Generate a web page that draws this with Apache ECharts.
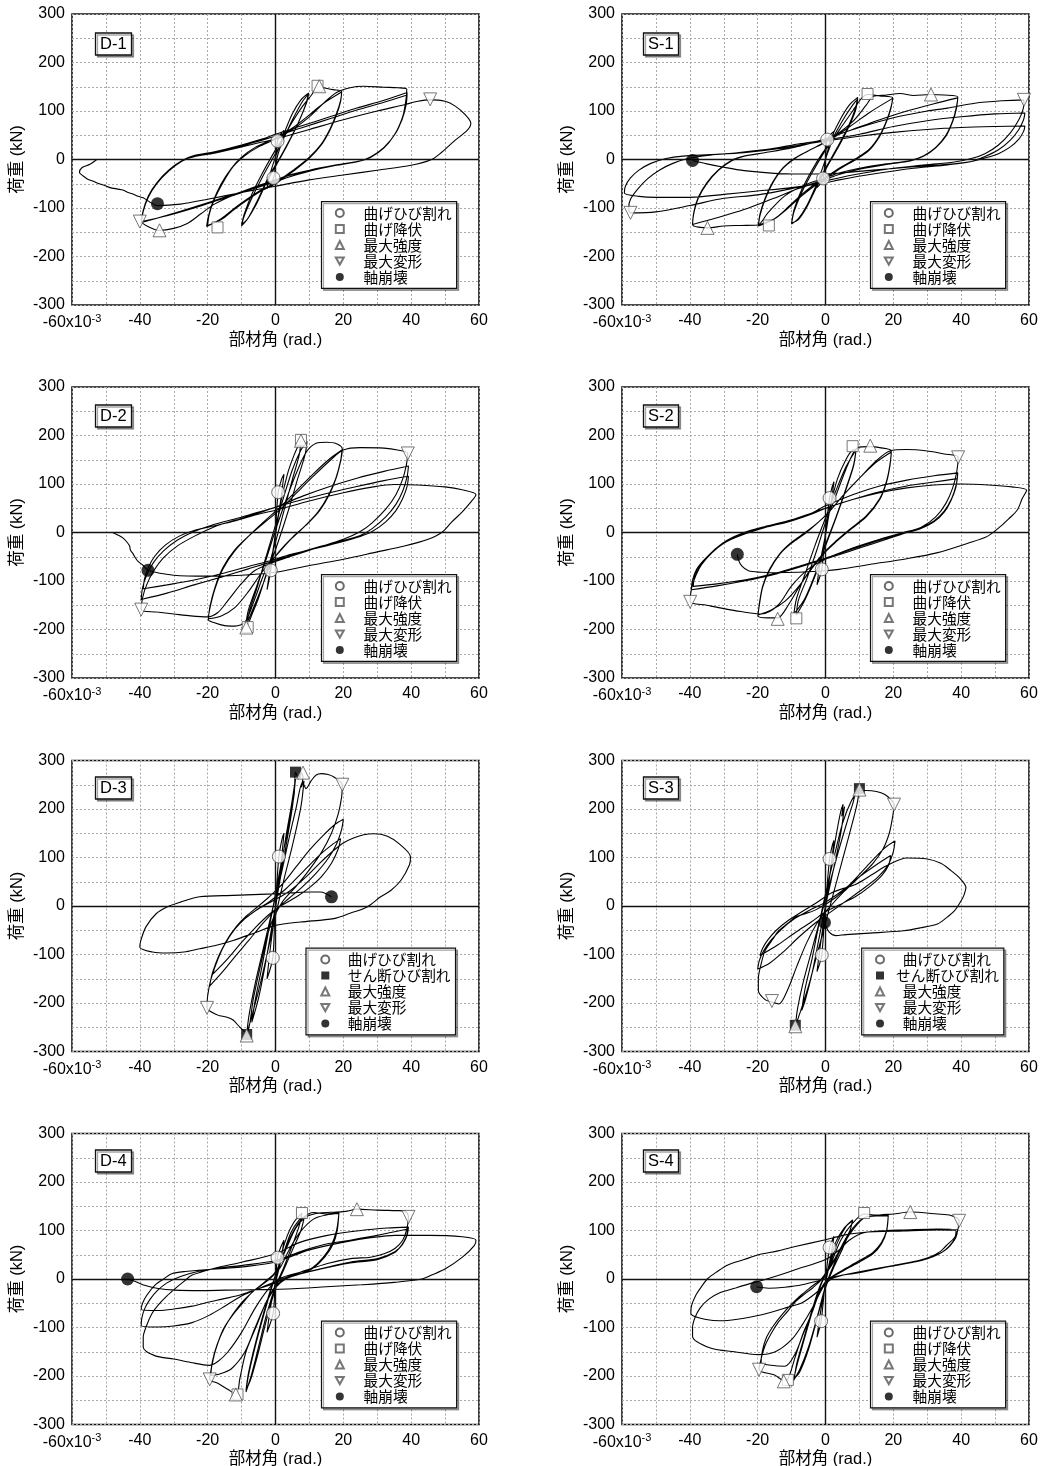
<!DOCTYPE html>
<html>
<head>
<meta charset="utf-8">
<script src="https://cdn.jsdelivr.net/npm/echarts@6/dist/echarts.min.js"></script>
<style>
html, body { margin: 0; padding: 0; background: #fff; }
#chart { width: 1040px; height: 1466px; }
</style>
</head>
<body>
<div id="chart"></div>
<script>
// ---- Axis tick values ----
const xTicks = [-60, -40, -20, 0, 20, 40, 60];
const yTicks = [-300, -200, -100, 0, 100, 200, 300];

// ---- Specimen names ----
const panelNames = ['D-1', 'S-1', 'D-2', 'S-2', 'D-3', 'S-3', 'D-4', 'S-4'];

// ---- Marker category names ----
const nameCrack = '曲げひび割れ';
const nameYield = '曲げ降伏';
const nameShear = 'せん断ひび割れ';
const nameMaxStr = '最大強度';
const nameMaxDef = '最大変形';
const nameCollapse = '軸崩壊';

// ---- Load (kN) vs. drift angle (x10^-3 rad) hysteresis paths ----
const d1Loop = [
 [0,0],[0.6,38],[1.5,52],[2.5,60],
 [1.8,35],[0.5,5],[-0.6,-38],[-1.5,-52],[-2.5,-60],
 [-1.8,-35],[-0.5,-5],[1,25],[3,62],[5,95],[7.5,123],[9.8,137],
 [9.2,118],[7,80],[4,38],[1,0],[-2,-35],[-5,-80],[-8,-120],[-10,-137],
 [-9.3,-118],[-7,-80],[-4,-38],[-1,0],[2,38],[5,82],[8,120],[9.6,134],
 [9,115],[6.5,72],[3.5,30],[0.5,-8],[-2.5,-45],[-5.5,-90],[-8.5,-125],[-10,-134],
 [-9.2,-112],[-7,-72],[-4,-30],[-1,8],[2,42],[5,78],[8,110],[10.5,132],[12.6,150],[14,148],[17,144],[19.5,140],
 [19.2,122],[18,95],[16,62],[13.5,32],[10,5],[6,-18],[2,-38],[0,-48],[-4,-62],[-8,-80],[-12,-100],[-16,-122],[-20.3,-138],
 [-19.8,-118],[-18.5,-88],[-16,-50],[-13,-18],[-10,5],[-6,25],[-2,38],[0,44],[5,65],[10,92],[14,115],[19.5,139],
 [19.2,120],[18,92],[16,60],[13.5,30],[10,3],[6,-20],[2,-40],[0,-50],[-4,-64],[-8,-82],[-12,-102],[-16,-124],[-20,-136],
 [-19.6,-115],[-18.2,-85],[-15.5,-48],[-12.5,-15],[-9,8],[-5,26],[0,42],[5,62],[10,88],[14,115],[18,138],[22,148],[26,151],[32,149],[36,148],[38.7,145],
 [38.4,120],[37.5,88],[35.5,55],[32,25],[28,5],[25,-3],[18,-12],[10,-22],[4,-32],[0,-42],[-6,-56],[-12,-72],[-18,-92],[-22,-112],[-26,-132],[-30,-142],[-34.2,-146],[-37,-140],[-39.5,-128],
 [-39,-105],[-37.5,-75],[-35,-48],[-31.5,-22],[-27.5,-2],[-24,8],[-18,16],[-10,30],[-4,42],[0,52],[8,70],[16,88],[24,106],[32,122],[38.8,138],
 [38.5,115],[37.3,84],[35.2,52],[32,25],[28,5],[25.5,-2],[18,-11],[10,-22],[4,-33],[0,-44],[-8,-62],[-16,-80],[-24,-98],[-32,-115],[-39.5,-130],
 [-39,-107],[-37.5,-78],[-35,-50],[-31.5,-24],[-27.5,-3],[-24,6],[-18,14],[-10,28],[-4,40],[0,48],[8,66],[16,84],[24,102],[32,118],[38.8,133],
 [38.5,112],[37.3,82],[35,50],[32,24],[28,4],[25,-3],[18,-12],[10,-24],[4,-36],[0,-46],[-8,-64],[-16,-82],[-24,-100],[-32,-116],[-39.5,-128],
 [-39,-105],[-37.5,-76],[-35,-48],[-31.5,-22],[-27.5,-2],[-24,6],[-18,13],[-10,26],[-4,36],[0,42],[10,62],[20,82],[30,100],[38,113],[42,120],[45.6,123],[50,120],[53,110],[56,92],[57.6,75],[56.5,60],[53,40],[49,15],[46,0],
 [40,-12],[30,-22],[20,-32],[10,-42],[0,-55],[-10,-68],[-20,-82],[-28,-92],[-34.8,-95],
 [-37,-88],[-39,-79],[-40.5,-76],[-42,-71],[-43.5,-68],[-45,-63],[-46.5,-61],[-48.8,-58],[-50.5,-53],[-52,-50],[-53.7,-45],[-55.5,-40],[-56.7,-34],[-57.8,-27],[-57.1,-17],[-54.7,-10],[-52.7,0]
];

const s1Loop = [
 [0,0],[0.5,41],[1.5,52],[2.5,58],[1.5,30],[0,0],[-0.7,-39],[-1.5,-50],[-2.5,-58],
 [-1.5,-30],[0,0],[1.5,40],[4,78],[7,112],[9.5,128],
 [8.8,105],[6.5,65],[3.5,25],[0.5,-12],[-2.5,-50],[-5.5,-95],[-8,-122],[-10,-133],
 [-9.3,-108],[-7,-68],[-4,-28],[-1,8],[2,42],[5,80],[8,112],[9.5,125],
 [8.8,100],[6.5,62],[3.5,22],[0.5,-15],[-2.5,-55],[-5.5,-98],[-8,-124],[-10,-131],
 [-9.2,-102],[-7,-62],[-4,-22],[-1,12],[2,40],[5,70],[8,100],[10.5,125],[12.4,134],[16,131],[19.8,127],
 [19.3,108],[18,80],[16,50],[13,22],[9,2],[5,-14],[1,-32],[-3,-50],[-7,-72],[-11,-98],[-15,-122],[-19.8,-137],
 [-19.3,-115],[-17.8,-82],[-15.5,-48],[-12.5,-18],[-9,2],[-5,18],[-1,32],[3,48],[8,72],[13,97],[19.8,126],
 [19.3,106],[18,78],[16,48],[13,20],[9,0],[5,-16],[1,-34],[-3,-53],[-7,-75],[-11,-100],[-15,-122],[-19.8,-135],
 [-19.3,-112],[-17.8,-80],[-15.5,-46],[-12.5,-17],[-9,3],[-5,18],[-1,33],[3,50],[8,78],[12,112],[14,130],[18,133],[22,136],[26,132],[31,134],[35,133],[39,129],
 [38.6,108],[37.5,80],[35.5,50],[32.5,25],[29,8],[25,-2],[18,-9],[10,-18],[4,-28],[0,-38],[-6,-52],[-12,-75],[-17,-110],[-20,-135],[-25,-136],[-30,-137],[-34.8,-141],[-39.2,-134],
 [-38.8,-110],[-37.5,-80],[-35,-50],[-31.5,-22],[-27.5,-2],[-24,7],[-18,14],[-10,24],[-4,34],[0,42],[8,62],[16,82],[24,100],[32,115],[39,127],
 [38.6,105],[37.5,78],[35.5,48],[32.5,24],[29,7],[25,-3],[18,-10],[10,-20],[4,-31],[0,-41],[-8,-60],[-16,-82],[-24,-103],[-32,-120],[-39.2,-134],
 [-38.8,-108],[-37.5,-78],[-35,-48],[-31.5,-21],[-27.5,-1],[-24,7],[-18,14],[-10,24],[-4,34],[0,43],[10,66],[20,86],[30,100],[36,106],[44,116],[52,121],[58.5,123],
 [58.3,105],[57,82],[54.5,55],[51,30],[47,12],[43,2],[38,-5],[28,-12],[18,-20],[8,-32],[0,-44],[-10,-60],[-20,-73],[-30,-80],[-40,-95],[-50,-108],[-57.5,-110],
 [-58,-98],[-57.5,-82],[-55.5,-62],[-52.5,-40],[-49,-22],[-45,-8],[-40,3],[-34,9],[-26,14],[-16,22],[-8,32],[0,40],[10,52],[20,68],[30,80],[40,88],[50,94],[58.8,96],
 [58.4,82],[57,62],[54.5,40],[51,20],[47,6],[43,-4],[36,-11],[26,-18],[14,-30],[4,-42],[0,-48],[-10,-58],[-20,-65],[-30,-72],[-40,-78],[-50,-78],[-55,-76],[-59.3,-69],
 [-59,-55],[-57.5,-38],[-55,-22],[-51.5,-8],[-47,2],[-42,7],[-34,10],[-24,14],[-14,22],[-6,32],[0,38],[10,48],[20,56],[30,62],[40,66],[50,68],[58.8,69],
 [58.4,58],[57,42],[54.5,26],[51,12],[47,3],[43,-4],[36,-10],[26,-15],[14,-22],[4,-28],[0,-30],[-8,-30],[-16,-28],[-24,-23],[-30,-16],[-35,-9],[-39.2,-2]
];

const d2Loop = [
 [0,0],[0.8,83],[1.8,110],[2.5,120],[1.5,65],[0,0],[-1.4,-78],[-2.5,-118],
 [-1.5,-70],[0,-5],[1.5,60],[3.5,120],[5.5,160],[7.5,190],
 [7,160],[5,110],[2.5,45],[0,-20],[-2.5,-80],[-5,-135],[-7,-170],[-8.4,-195],
 [-7.8,-165],[-5.5,-115],[-3,-55],[0,15],[2.5,75],[5,130],[7.5,170],[9.3,188],
 [8.7,160],[6.5,110],[4,50],[1,-15],[-2,-75],[-5,-130],[-7.5,-172],[-8.8,-192],
 [-8,-160],[-5.5,-110],[-2.5,-50],[0,5],[3,65],[6,120],[9,165],[12,184],[15,186],[18,183],[19.7,172],
 [19.3,150],[18,115],[16,80],[13,45],[9,15],[5,-10],[1,-40],[-3,-80],[-6,-135],[-9,-185],[-12,-193],[-15,-192],[-18,-186],[-19.8,-180],
 [-19.3,-155],[-17.8,-115],[-15.5,-75],[-12,-38],[-8,-8],[-3,25],[1,50],[6,85],[11,120],[16,152],[19.6,170],
 [19.2,148],[17.8,112],[15.5,75],[12.5,42],[8.5,12],[4.5,-14],[0.5,-45],[-4,-82],[-8,-122],[-12,-155],[-16,-172],[-19.8,-178],
 [-19.3,-152],[-17.8,-112],[-15.5,-72],[-12,-36],[-8,-8],[-3,22],[1,45],[6,80],[11,115],[16,148],[20,170],[25,175],[32,174],[36,170],[39,163],
 [38.6,140],[37.5,110],[35.5,78],[32.5,48],[28.5,20],[25,2],[20,-14],[12,-32],[5,-48],[0,-60],[-6,-78],[-10,-105],[-14,-140],[-17,-165],[-20,-174],[-25,-172],[-30,-168],[-35,-164],[-39.6,-160],
 [-39.2,-135],[-38,-108],[-36,-80],[-33,-52],[-29,-28],[-24,-8],[-18,12],[-12,25],[-6,38],[0,52],[8,75],[16,95],[24,112],[32,126],[39.2,137],
 [38.8,115],[37.5,85],[35.5,58],[32.5,32],[28.5,8],[25,-6],[18,-20],[10,-35],[4,-48],[0,-58],[-8,-75],[-16,-92],[-24,-108],[-32,-125],[-39.6,-138],
 [-39.2,-114],[-38,-88],[-36,-62],[-33,-38],[-29,-16],[-24,2],[-18,17],[-12,28],[-6,40],[0,52],[8,68],[16,82],[24,95],[32,107],[39.2,116],
 [38.8,95],[37.5,70],[35.5,45],[32.5,22],[28.5,2],[25,-8],[18,-22],[10,-36],[4,-46],[0,-55],[-8,-70],[-16,-85],[-24,-98],[-32,-108],[-39,-116],
 [-38.6,-95],[-37.5,-72],[-35.5,-48],[-32.5,-26],[-28.5,-8],[-24,4],[-18,14],[-12,24],[-6,36],[0,46],[10,65],[20,82],[28,93],[35,99],[42,98],[50,94],[55,88],[59.1,78],
 [57.5,62],[55,42],[52,22],[49,0],[45,-14],[38,-28],[30,-40],[20,-55],[10,-68],[0,-82],[-10,-88],[-20,-90],[-30,-88],[-37.6,-78],
 [-39,-68],[-40.6,-59],[-41.5,-50],[-42,-44],[-42.8,-36],[-43,-28],[-44,-18],[-45,-11],[-46.5,-5],[-48,0]
];

const s2Loop = [
 [0,0],[1.2,71],[2,95],[2.5,105],[1.5,55],[0,0],[-1.1,-76],[-2.5,-108],
 [-1.5,-58],[0,-5],[1.5,55],[3.5,110],[6,150],[8,170],[9,171],
 [8.3,140],[6,90],[3,30],[0,-25],[-3,-85],[-6,-135],[-8.6,-162],[-9.3,-166],
 [-8.5,-135],[-6,-85],[-3,-25],[0,30],[3,85],[6,135],[8.5,165],[9,170],
 [8.3,138],[6,88],[3,28],[0,-28],[-3,-88],[-6,-138],[-8.6,-170],
 [-8,-140],[-5.5,-95],[-2.5,-35],[0,20],[3,75],[6,130],[8.5,168],[10,176],[13.2,177],[16,175],[19.4,168],
 [19,140],[18,106],[16,70],[12,34],[7,6],[3,-18],[0,-38],[-4,-72],[-8,-115],[-11,-150],[-14.1,-176],[-17,-176],[-19.9,-172],
 [-19.4,-145],[-18.5,-112],[-16.5,-78],[-13.5,-45],[-10,-22],[-6,-2],[-2,22],[1,42],[5,75],[10,112],[15,145],[19.4,166],
 [19,138],[18,104],[16,68],[12,32],[7,4],[3,-20],[0,-40],[-4,-74],[-8,-112],[-12,-142],[-16,-160],[-19.9,-170],
 [-19.4,-142],[-18.5,-110],[-16.5,-76],[-13.5,-44],[-10,-20],[-6,0],[-2,22],[1,42],[5,75],[10,112],[15,148],[19,168],[24,171],[30,168],[35,162],[39.1,155],
 [38.7,125],[37.5,92],[35.5,60],[32.5,32],[28.5,12],[24,0],[18,-14],[10,-32],[4,-46],[0,-55],[-5,-75],[-10,-110],[-14,-150],[-19,-168],[-25,-163],[-30,-157],[-35,-150],[-39.9,-143],
 [-39.5,-115],[-38.2,-88],[-36.5,-66],[-33.5,-42],[-30,-22],[-25,-6],[-18,10],[-10,25],[-4,40],[0,55],[8,78],[16,96],[24,108],[32,117],[39,123],
 [38.6,100],[37.2,70],[35,44],[32,24],[28,10],[23,0],[16,-14],[8,-32],[2,-48],[0,-54],[-8,-72],[-16,-88],[-24,-100],[-32,-110],[-39.6,-118],
 [-39.2,-98],[-38,-76],[-36,-58],[-33,-38],[-29,-18],[-24,-2],[-18,10],[-10,24],[-4,38],[0,50],[8,68],[16,84],[24,96],[32,104],[38.8,111],
 [38.4,92],[37,66],[35,42],[32,22],[28,8],[23,-2],[16,-16],[8,-34],[2,-48],[0,-53],[-8,-70],[-16,-86],[-24,-98],[-32,-106],[-39,-111],
 [-38.6,-92],[-37.3,-72],[-35.3,-54],[-32.5,-34],[-29,-16],[-24,0],[-18,12],[-10,26],[-4,40],[0,50],[8,68],[16,82],[24,92],[32,98],[40,100],[48,98],[55,94],[59.3,87],
 [58,70],[56.6,47],[54,28],[51.7,13],[47.7,-8],[42,-22],[32.8,-42],[24,-54],[13,-66],[4,-76],[0,-79],[-8,-82],[-14.8,-83],[-19,-82],[-22.7,-79],[-24.7,-69],[-25.7,-56],[-26,-45]
];

const d3Loop = [
 [0,0],[1,102],[2,140],[2.5,150],[1.5,80],[0,5],[-0.8,-107],[-2.5,-150],
 [-1.5,-85],[0,-5],[1.5,70],[3,140],[4.5,200],[5.9,262],
 [5,205],[3,120],[1,40],[-1,-40],[-3,-120],[-5,-190],[-7,-240],
 [-6,-195],[-4,-125],[-2,-50],[0,25],[2,100],[4,170],[5.5,230],[5.9,276],[6.8,262],[7.3,278],[8.1,266],[7.6,245],[8.4,258],
 [7.5,205],[5,125],[2.5,55],[0,-20],[-2.5,-100],[-5,-175],[-7.5,-240],[-8.5,-265],
 [-7.8,-225],[-6,-160],[-3.5,-85],[-1,-10],[1.5,60],[4,140],[6,200],[8,255],[9,242],
 [10.5,258],[12,270],[13.5,273],[15.5,271],[17.2,266],[19.7,250],
 [19.5,225],[18.5,190],[16.5,150],[13.5,110],[10,75],[6,40],[2,8],[-1.5,-40],[-4,-110],[-6.5,-190],[-8.5,-262],[-10.5,-250],[-12.5,-235],[-14.5,-229],[-17,-225],[-20.2,-210],
 [-20,-185],[-19,-150],[-17,-110],[-14.5,-72],[-11.5,-42],[-8.5,-20],[-5,0],[-2,18],[2,45],[6,80],[10,115],[14,145],[17.5,168],[20,179],
 [19.5,158],[18,128],[15.5,98],[12,68],[8,40],[4,16],[0,-8],[-4,-38],[-8,-72],[-12,-105],[-15.5,-135],[-19.4,-165],
 [-18.6,-138],[-16.5,-100],[-13.5,-62],[-10,-32],[-6,-10],[-2,8],[3,35],[8,70],[13,105],[17,128],[19.2,139],
 [18.5,118],[16.5,88],[13.5,60],[10,38],[6,18],[2,2],[-2,-18],[-6,-45],[-10,-75],[-14,-108],[-18.4,-140],
 [-17.6,-118],[-15.5,-85],[-12.5,-52],[-9,-26],[-5,-6],[-1,10],
 [4,30],[9,60],[13,88],[17.2,115],[20,130],[23,140],[26,147],[29,149],[33,144],[36.5,128],[39.8,101],
 [39.5,85],[37,53],[34,32],[31,19],[27,-2],[22,-15],[17.2,-26],[7.3,-33],[0,-40],[-6,-55],[-12.5,-71],[-18,-82],[-22.4,-88],[-27,-95],[-32,-97],[-36.2,-95],[-40,-85],
 [-39.7,-71],[-38.2,-43],[-35.2,-16],[-32,-2],[-28,8],[-22.4,19],[-12.5,22],[-0.6,25],[10.3,29],[13.3,29],[16.5,19]
];

const s3Loop = [
 [0,0],[1.2,97],[2,125],[2.5,135],[1.5,75],[0,5],[-1.1,-101],[-2.5,-135],
 [-1.5,-80],[0,-5],[1.5,75],[3,140],[4.5,195],[5.2,210],[4.8,185],[5.6,205],
 [4.5,150],[2.5,80],[0,0],[-2,-70],[-4,-140],[-6,-195],[-7,-215],
 [-6,-170],[-4,-110],[-2,-40],[0,25],[2.5,100],[5,170],[7.5,215],[10,242],
 [9.3,210],[7.5,160],[5,95],[2.5,30],[0,-35],[-2.5,-100],[-5,-165],[-7.5,-220],[-8.9,-248],
 [-8.2,-210],[-6.5,-155],[-4,-90],[-1.5,-25],[1,40],[3.5,105],[6,165],[8,210],[9.5,238],
 [12,238],[15,236],[17.5,230],[19.2,220],[20.2,209],
 [19.7,180],[18.8,150],[17,118],[14,88],[10,60],[5.5,30],[1.5,0],[-2,-30],[-5.5,-75],[-8.5,-125],[-11,-170],[-13.8,-202],[-15.8,-198],[-17.8,-193],[-19.8,-174],
 [-19.8,-150],[-19,-120],[-17.8,-92],[-15.5,-68],[-13.8,-51],[-11,-35],[-8.9,-23],[-2.9,-8],[3.1,18],[8,50],[13,88],[17.5,120],[20.5,134],
 [20,112],[18.5,85],[15.5,60],[11,35],[6,10],[2,-10],[-3,-35],[-8,-65],[-12.5,-95],[-16.5,-118],[-20,-130],
 [-19.5,-112],[-18.2,-92],[-16,-70],[-13,-48],[-9.5,-28],[-5,-10],[0,8],[5,32],[10,60],[15,85],[19.2,104],
 [18.6,84],[16.5,62],[13,40],[9,20],[4,2],[0,-12],[-4,-32],[-9,-55],[-14,-80],[-19.3,-102],
 [-18.6,-88],[-17,-70],[-14.5,-50],[-11,-30],[-7,-12],[-3,5],
 [2,28],[9,45],[14,66],[18,83],[24,99],[30,97],[34,88],[37,73],[39.5,58],[41.4,38],
 [40.8,22],[40,11],[38,-10],[35.5,-25],[33,-37],[28,-45],[23,-51],[13,-56],[6,-59],[3,-61],[1.1,-54],[-0.3,-34]
];

const d4Loop = [
 [0,0],[0.6,44],[1.5,65],[2.5,80],[1.5,35],[0,-10],[-0.7,-71],[-2.5,-110],
 [-1.5,-60],[0,-5],[1.5,45],[3.5,90],[5.5,118],[7.8,136],
 [7,110],[5,70],[2.5,25],[0,-15],[-2.5,-70],[-5,-140],[-7,-195],[-8.7,-233],
 [-8,-200],[-6,-140],[-3.5,-75],[-1,-15],[2,45],[4.5,95],[7,122],[8.5,128],
 [7.5,100],[5,60],[2.5,20],[0,-20],[-2.5,-80],[-5,-150],[-7.2,-205],[-8.7,-230],
 [-8,-195],[-6,-135],[-3.5,-70],[-1,-12],[2,45],[5,95],[8,125],[11.3,137],[15,134],[18.7,137],
 [18.2,100],[17,72],[14.5,45],[11,22],[7.3,11],[3,0],[0,-15],[-2.7,-47],[-5.5,-95],[-8.7,-150],[-10.5,-205],[-11.5,-238],[-14,-228],[-17,-215],[-19.4,-207],
 [-18.8,-180],[-17.6,-145],[-15.5,-105],[-12.7,-75],[-9.5,-48],[-7,-28],[-4,-12],[-1,5],[1.5,25],[4,60],[7.3,97],[11.3,124],[15,132],[18.7,135],
 [18,100],[16.5,70],[14,44],[11,24],[7,10],[3,0],[0,-18],[-3,-52],[-6,-100],[-9,-150],[-13,-185],[-16.5,-196],[-19.1,-199],
 [-18.6,-170],[-17.2,-135],[-15,-100],[-12.5,-72],[-9.5,-45],[-6,-22],[-3,-5],[0,15],[3,60],[6,105],[9,128],[13,136],[18,138],[21.2,140],[24,144],[30,142],[36,141],[38.2,140],[39.2,128],
 [38.6,100],[37.5,80],[35.2,63],[32,52],[28,45],[22.2,42],[15.3,32],[7.3,14],[1.3,1],[-2,-20],[-6,-60],[-10,-110],[-14,-150],[-17,-170],[-19.6,-178],[-25,-172],[-30,-165],[-35.6,-158],[-39,-140],
 [-39,-120],[-38,-96],[-36.5,-72],[-34.6,-54],[-32,-35],[-29.6,-20],[-27,-5],[-24.6,8],[-18.6,21],[-9.7,35],[0,52],[7,75],[15.3,90],[25.2,100],[33,105],[39.2,107],
 [38.8,90],[37.5,72],[35.2,56],[30.2,42],[22.2,35],[13.3,21],[5.3,8],[0,-5],[-5,-20],[-9.7,-34],[-14.7,-55],[-19.6,-75],[-24.6,-90],[-30,-97],[-34.6,-99],[-39.6,-96],
 [-39.4,-80],[-38.5,-60],[-37,-42],[-35,-25],[-32,-8],[-28,5],[-22.6,16],[-15,24],[-9.7,28],[0,38],[8,58],[15,72],[22,80],[30,90],[39,103],
 [38.6,88],[37.2,70],[35,54],[30,40],[22,33],[13,20],[5,6],[0,-8],[-5,-20],[-10,-32],[-14.7,-40],[-20,-48],[-24.6,-56],[-30,-62],[-34.6,-65],[-39.6,-63],
 [-39.2,-50],[-38,-34],[-35.6,-13],[-33,0],[-30.6,11],[-26,16],[-22.6,18],[-15,22],[-9.7,25],[0,35],[10,60],[20.2,76],[28,85],[35.2,90],[45.2,90],[55.1,87],[59.1,80],
 [58.6,69],[55.1,45],[50.1,21],[46,8],[43.2,0],[35,-7],[25.2,-12],[15,-16],[5.3,-20],[-5,-22],[-14.7,-23],[-22,-24],[-29.6,-23],[-35,-19],[-38.6,-13],[-41,-6],[-43.6,0]
];

const s4Loop = [
 [0,0],[1.2,65],[2,80],[2.5,88],[1.5,45],[0,-5],[-1.3,-87],[-2.5,-120],
 [-1.5,-70],[0,-10],[1.5,40],[3.1,77],[5.5,105],[8,122],
 [7.2,100],[5,70],[2.5,30],[0,-15],[-2.5,-80],[-5,-140],[-7.5,-185],[-9.4,-209],
 [-8.5,-180],[-6.5,-130],[-4,-70],[-1.5,-15],[1,25],[3.5,75],[6,108],[8,120],
 [7,95],[5,62],[2.5,25],[0,-18],[-2.5,-82],[-5,-145],[-7.5,-190],[-9.2,-205],
 [-8.5,-175],[-6.5,-125],[-4,-65],[-1.5,-12],[1.5,30],[4.5,80],[8,115],[11.4,134],[15,132],[18.5,132],
 [18,100],[16.5,75],[14,55],[10,38],[6,22],[3,10],[0,-6],[-2,-30],[-3.9,-68],[-6.5,-110],[-8.9,-160],[-11,-205],[-12.3,-209],[-15,-198],[-19.6,-187],
 [-19,-165],[-17.8,-137],[-15.8,-110],[-13.8,-88],[-11,-65],[-8.9,-47],[-6,-30],[-3.9,-19],[-0.9,1],[3.1,43],[7,91],[11.4,126],[15,130],[18.5,130],
 [18,98],[16.5,72],[14,52],[10,35],[6,20],[3,8],[0,-8],[-2,-32],[-4,-70],[-6.5,-112],[-9,-155],[-12,-180],[-16,-178],[-19,-172],
 [-18.6,-148],[-17.5,-122],[-15.5,-98],[-13,-75],[-10,-52],[-7,-32],[-4,-15],[-1,2],[3,45],[7,95],[11,125],[16,132],[20,134],[25,138],[33,134],[37,131],[39.4,120],
 [38.8,95],[37.9,84],[35.5,68],[33.9,57],[31,46],[28,39],[21,29],[11,15],[5,8],[1.1,-2],[-0.9,-19],[-3.9,-60],[-6.9,-95],[-10,-125],[-14.8,-150],[-19.8,-156],[-26.8,-150],[-33.7,-143],[-39.2,-118],
 [-39.2,-100],[-38.5,-80],[-37,-60],[-34.5,-42],[-31,-28],[-26.8,-19],[-22,-9],[-16.8,1],[-8.5,20],[0,40],[4,60],[7,80],[11,95],[18,100],[23,101],[33,103],[38.9,101],
 [38.4,85],[36.9,70],[35,58],[33,50],[30,42],[27,36],[19,26],[9,12],[3.1,5],[0,-10],[-3,-30],[-6.9,-49],[-11,-58],[-16.8,-70],[-24,-81],[-30,-86],[-33.7,-85],[-39.7,-71],
 [-39.5,-55],[-38.2,-33],[-36.5,-15],[-34.7,1],[-32,15],[-28.8,29],[-24,40],[-19.8,50],[-14,58],[-8.9,67],[0,81],[5.1,90],[11,96],[23,99],[33,101],[38.5,99],
 [38,82],[36.5,68],[34.5,56],[32,48],[28,38],[20,28],[10,15],[3,5],[0,0],[-6.9,-12],[-12,-17],[-16.8,-19],[-20.3,-16]
];

// ---- Event points: [drift angle, load] ----
const d1Crack = [[0.6,38],[-0.6,-38]];
const d1Yield = [[12.4,152],[-17.1,-140]];
const d1MaxStr = [[12.9,151],[-34.2,-146]];
const d1MaxDef = [[45.6,124],[-40,-128]];
const d1Collapse = [[-34.8,-91]];

const s1Crack = [[0.5,41],[-0.7,-39]];
const s1Yield = [[12.4,135],[-16.7,-136]];
const s1MaxStr = [[31.1,134],[-34.8,-141]];
const s1MaxDef = [[58.5,123],[-57.5,-110]];
const s1Collapse = [[-39.2,-2]];

const d2Crack = [[0.8,83],[-1.4,-78]];
const d2Yield = [[7.5,191],[-8.2,-195]];
const d2MaxStr = [[7.5,189],[-8.6,-196]];
const d2MaxDef = [[39,163],[-39.6,-159]];
const d2Collapse = [[-37.6,-78]];

const s2Crack = [[1.2,71],[-1.1,-76]];
const s2Yield = [[8,178],[-8.6,-177]];
const s2MaxStr = [[13.2,179],[-14.1,-178]];
const s2MaxDef = [[39.1,155],[-39.9,-143]];
const s2Collapse = [[-26,-45]];

const d3Crack = [[1,102],[-0.8,-107]];
const d3Shear = [[5.9,276],[-8.5,-265]];
const d3MaxStr = [[8.1,275],[-8.5,-267]];
const d3MaxDef = [[19.7,250],[-20.2,-210]];
const d3Collapse = [[16.5,19]];

const s3Crack = [[1.2,97],[-1.1,-101]];
const s3Shear = [[10,242],[-8.9,-246]];
const s3MaxStr = [[10,240],[-8.9,-248]];
const s3MaxDef = [[20.2,209],[-15.8,-196]];
const s3Collapse = [[-0.3,-34]];

const d4Crack = [[0.6,44],[-0.7,-71]];
const d4Yield = [[7.8,136],[-11.2,-238]];
const d4MaxStr = [[24,144],[-11.7,-238]];
const d4MaxDef = [[39.2,128],[-19.4,-207]];
const d4Collapse = [[-43.6,0]];

const s4Crack = [[1.2,65],[-1.3,-87]];
const s4Yield = [[11.4,136],[-11.1,-208]];
const s4MaxStr = [[25,138],[-12.3,-211]];
const s4MaxDef = [[39.4,120],[-19.6,-187]];
const s4Collapse = [[-20.3,-16]];

// ---- Panel assembly ----
const panels = [
  { loop: d1Loop, crack: d1Crack, second: d1Yield, shear: false, maxStr: d1MaxStr, maxDef: d1MaxDef, collapse: d1Collapse },
  { loop: s1Loop, crack: s1Crack, second: s1Yield, shear: false, maxStr: s1MaxStr, maxDef: s1MaxDef, collapse: s1Collapse },
  { loop: d2Loop, crack: d2Crack, second: d2Yield, shear: false, maxStr: d2MaxStr, maxDef: d2MaxDef, collapse: d2Collapse },
  { loop: s2Loop, crack: s2Crack, second: s2Yield, shear: false, maxStr: s2MaxStr, maxDef: s2MaxDef, collapse: s2Collapse },
  { loop: d3Loop, crack: d3Crack, second: d3Shear, shear: true, maxStr: d3MaxStr, maxDef: d3MaxDef, collapse: d3Collapse },
  { loop: s3Loop, crack: s3Crack, second: s3Shear, shear: true, maxStr: s3MaxStr, maxDef: s3MaxDef, collapse: s3Collapse },
  { loop: d4Loop, crack: d4Crack, second: d4Yield, shear: false, maxStr: d4MaxStr, maxDef: d4MaxDef, collapse: d4Collapse },
  { loop: s4Loop, crack: s4Crack, second: s4Yield, shear: false, maxStr: s4MaxStr, maxDef: s4MaxDef, collapse: s4Collapse }
];

// ---- Layout ----
const LATIN = '"Liberation Sans", Arial, "Noto Sans CJK JP", sans-serif';
const CJK = '"Noto Sans CJK JP", "Liberation Sans", sans-serif';
const colX = [72, 622];
const rowY = [14, 387, 760.5, 1133.5];
const plotW = 407, plotH = 291;
const titleTopOffset = [19, 18, 16.5, 16.5];
const titleLeft = [95, 643];
// downward-pointing triangle used as the legend icon for maximum deformation
const invTriangleIcon = 'path://M0,0 L10,0 L5,9 Z';

const chart = echarts.init(document.getElementById('chart'), null, { renderer: 'canvas' });

const grids = [], xAxes = [], yAxes = [], series = [], legends = [], titles = [];

const xFormatter = v => {
  if (v === xTicks[0]) return '{m|-60x10}{s|-3}';
  return xTicks.indexOf(v) >= 0 ? String(v) : '';
};
const yFormatter = v => (yTicks.indexOf(v) >= 0 ? String(v) : '');

const hollowCircle = { color: '#fff', borderColor: '#444', borderWidth: 1 };
const hollowShape = { color: '#fff', borderColor: '#555', borderWidth: 1 };

panels.forEach((p, i) => {
  const col = i % 2, row = Math.floor(i / 2);
  const left = colX[col], top = rowY[row];

  grids.push({
    left, top, width: plotW, height: plotH,
    containLabel: false, outerBoundsMode: 'none',
    show: true, borderColor: '#111', borderWidth: 1.6, backgroundColor: 'transparent'
  });

  xAxes.push({
    gridIndex: i, type: 'value', min: -60, max: 60, interval: 10,
    axisLine: { show: false }, axisTick: { show: false },
    splitLine: { show: true, lineStyle: { color: '#a8a8a8', width: 1, type: [2, 2] } },
    axisLabel: {
      formatter: xFormatter, showMinLabel: true, showMaxLabel: true, hideOverlap: false,
      fontSize: 16, color: '#000', fontFamily: LATIN, margin: 8,
      rich: {
        m: { fontSize: 16, color: '#000', fontFamily: LATIN, lineHeight: 20 },
        s: { fontSize: 11, color: '#000', fontFamily: LATIN, verticalAlign: 'top', lineHeight: 11 }
      }
    },
    name: '部材角 (rad.)', nameLocation: 'middle', nameGap: 24,
    nameTextStyle: { fontSize: 16.5, color: '#000', fontFamily: LATIN }
  });

  yAxes.push({
    gridIndex: i, type: 'value', min: -300, max: 300, interval: 50,
    axisLine: { show: false }, axisTick: { show: false },
    splitLine: { show: true, lineStyle: { color: '#a8a8a8', width: 1, type: [2, 2] } },
    axisLabel: {
      formatter: yFormatter, showMinLabel: true, showMaxLabel: true, hideOverlap: false,
      fontSize: 16, color: '#000', fontFamily: LATIN, margin: 7
    },
    name: '荷重 (kN)', nameLocation: 'middle', nameRotate: 90, nameGap: 46,
    nameTextStyle: { fontSize: 16.5, color: '#000', fontFamily: LATIN }
  });

  // hysteresis path with zero reference lines
  series.push({
    type: 'line', xAxisIndex: i, yAxisIndex: i, data: p.loop,
    showSymbol: false, symbol: 'none', smooth: 0.3, silent: true, z: 3,
    lineStyle: { color: '#000', width: 1.1 },
    emphasis: { disabled: true },
    markLine: {
      silent: true, symbol: ['none', 'none'], label: { show: false },
      lineStyle: { color: '#111', width: 1.4, type: 'solid' },
      emphasis: { disabled: true },
      data: [{ xAxis: 0 }, { yAxis: 0 }]
    }
  });

  series.push({ type: 'scatter', name: nameCrack, xAxisIndex: i, yAxisIndex: i, data: p.crack,
    symbol: 'circle', symbolSize: 13, itemStyle: hollowCircle, z: 5, silent: true });
  if (p.shear) {
    series.push({ type: 'scatter', name: nameShear, xAxisIndex: i, yAxisIndex: i, data: p.second,
      symbol: 'rect', symbolSize: 11, itemStyle: { color: '#000' }, z: 5, silent: true });
  } else {
    series.push({ type: 'scatter', name: nameYield, xAxisIndex: i, yAxisIndex: i, data: p.second,
      symbol: 'rect', symbolSize: 11, itemStyle: hollowShape, z: 5, silent: true });
  }
  series.push({ type: 'scatter', name: nameMaxStr, xAxisIndex: i, yAxisIndex: i, data: p.maxStr,
    symbol: 'triangle', symbolSize: 13, itemStyle: hollowShape, z: 6, silent: true });
  series.push({ type: 'scatter', name: nameMaxDef, xAxisIndex: i, yAxisIndex: i, data: p.maxDef,
    symbol: 'triangle', symbolRotate: 180, symbolSize: 13, itemStyle: hollowShape, z: 6, silent: true });
  series.push({ type: 'scatter', name: nameCollapse, xAxisIndex: i, yAxisIndex: i, data: p.collapse,
    symbol: 'circle', symbolSize: 13, itemStyle: { color: '#000' }, z: 7, silent: true });

  // legend box: icon column then text column
  const legendData = [
    { name: nameCrack, icon: 'circle' },
    p.shear ? { name: nameShear, icon: 'rect' } : { name: nameYield, icon: 'rect' },
    { name: nameMaxStr, icon: 'triangle' },
    { name: nameMaxDef, icon: invTriangleIcon },
    { name: nameCollapse, icon: 'circle' }
  ];
  let legLeft, padLeft, padShear, padOther;
  if (!p.shear) {
    legLeft = col === 0 ? 321.5 : 870.5;
    padLeft = 13.3; padShear = 14.7; padOther = 14.7;
  } else if (col === 0) {
    legLeft = 306; padLeft = 14.3; padShear = 13.4; padOther = 13.4;
  } else {
    legLeft = 861.7; padLeft = 13.3; padShear = 7; padOther = 13.7;
  }
  const tokenStyle = pad => ({ fontSize: 14.7, lineHeight: 16, color: '#000', fontFamily: CJK, padding: [0, 0, 0, pad] });
  legends.push({
    orient: 'vertical', left: legLeft, top: top + 187.7,
    data: legendData, selectedMode: false,
    itemWidth: 8, itemHeight: 8, itemGap: 0,
    padding: [3.3, 5, 3.3, padLeft],
    backgroundColor: '#fff', borderColor: '#111', borderWidth: 1.2,
    shadowColor: 'rgba(0,0,0,0.35)', shadowOffsetX: 2, shadowOffsetY: 2, shadowBlur: 0,
    formatter: n => (n === nameShear ? '{a|' + n + '}' : '{b|' + n + '}'),
    textStyle: {
      fontSize: 14.7, lineHeight: 16, color: '#000', fontFamily: CJK,
      rich: { a: tokenStyle(padShear), b: tokenStyle(padOther) }
    }
  });

  titles.push({
    text: panelNames[i], left: titleLeft[col], top: top + titleTopOffset[row],
    padding: [2.5, 5, 2, 5],
    backgroundColor: '#fff', borderColor: '#111', borderWidth: 1.3,
    shadowColor: 'rgba(0,0,0,0.35)', shadowOffsetX: 2, shadowOffsetY: 2, shadowBlur: 0,
    textStyle: { fontSize: 16.5, fontWeight: 'normal', color: '#000', fontFamily: LATIN, lineHeight: 18 }
  });
});

chart.setOption({
  animation: false,
  backgroundColor: '#fff',
  title: titles,
  legend: legends,
  grid: grids,
  xAxis: xAxes,
  yAxis: yAxes,
  series
});
</script>
</body>
</html>
